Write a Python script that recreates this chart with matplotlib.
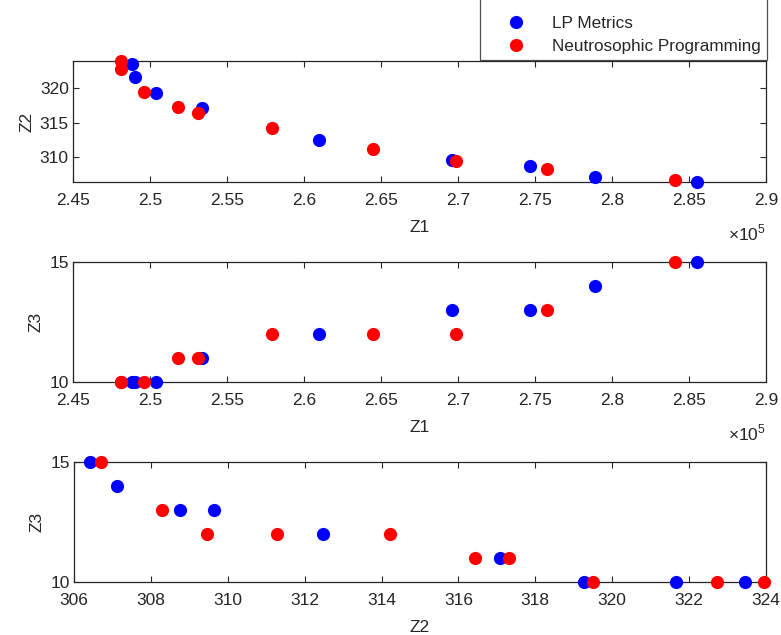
import matplotlib
matplotlib.use("Agg")
from matplotlib import pyplot as plt
from matplotlib.ticker import FuncFormatter

plt.rcParams['font.family'] = ['Liberation Sans', 'DejaVu Sans']
plt.rcParams['mathtext.fontset'] = 'custom'
plt.rcParams['mathtext.rm'] = 'Liberation Sans'

# LP Metrics solutions
lp_z1 = [248800, 249000, 250400, 253400, 261000, 269600, 274700, 278900, 285500]
lp_z2 = [323.45, 321.65, 319.27, 317.07, 312.47, 309.63, 308.77, 307.12, 306.42]
lp_z3 = [10, 10, 10, 11, 12, 13, 13, 14, 15]

# Neutrosophic Programming solutions
np_z1 = [248100, 248100, 249600, 251800, 253100, 257900, 264500, 269900, 275800, 284100]
np_z2 = [323.95, 322.72, 319.51, 317.31, 316.43, 314.21, 311.27, 309.45, 308.30, 306.71]
np_z3 = [10, 10, 10, 11, 11, 12, 12, 12, 13, 15]

z1_ticks = [245000, 250000, 255000, 260000, 265000, 270000, 275000, 280000, 285000, 290000]
z2_ticks = [306, 308, 310, 312, 314, 316, 318, 320, 322, 324]

grey = '#262626'
W, H = 781, 635

fig = plt.figure(figsize=(7.81, 6.35), dpi=100)
ax1 = fig.add_axes([73/W, 1-182/635, 693/W, 121/H])
ax2 = fig.add_axes([73/W, 1-382/635, 693/W, 120/H])
ax3 = fig.add_axes([74/W, 1-582/635, 692/W, 120/H])

pairs = [
    (ax1, lp_z1, lp_z2, np_z1, np_z2, 'Z1', 'Z2'),
    (ax2, lp_z1, lp_z3, np_z1, np_z3, 'Z1', 'Z3'),
    (ax3, lp_z2, lp_z3, np_z2, np_z3, 'Z2', 'Z3'),
]

for ax, bx, by, rx, ry, xl, yl in pairs:
    ax.plot(bx, by, 'o', color='blue', markersize=9.5, markeredgewidth=0,
            clip_on=False, label='LP Metrics', zorder=3)
    ax.plot(rx, ry, 'o', color='red', markersize=9.5, markeredgewidth=0,
            clip_on=False, label='Neutrosophic Programming', zorder=4)
    ax.set_xlabel(xl, fontsize=12.5, color=grey, labelpad=8.5)
    ax.set_ylabel(yl, fontsize=12.5, color=grey, labelpad=4)
    for s in ax.spines.values():
        s.set_color(grey)
        s.set_linewidth(0.9)
    ax.tick_params(direction='in', top=True, right=True, length=4, width=0.8,
                   colors=grey, labelsize=12.5)
    ax.tick_params(axis='x', pad=8)
    ax.tick_params(axis='y', pad=3)

# top: Z1 vs Z2
ax1.set_xlim(245000, 290000)
ax1.set_ylim(min(lp_z2 + np_z2), max(lp_z2 + np_z2))
ax1.set_yticks([310, 315, 320])

# middle: Z1 vs Z3
ax2.set_xlim(245000, 290000)
ax2.set_ylim(10, 15)
ax2.set_yticks([10, 15])

for ax in (ax1, ax2):
    ax.set_xticks(z1_ticks)
    ax.xaxis.set_major_formatter(FuncFormatter(lambda v, p: '%g' % (v / 1e5)))

# bottom: Z2 vs Z3
ax3.set_xlim(306, 324)
ax3.set_xticks(z2_ticks)
ax3.set_ylim(10, 15)
ax3.set_yticks([10, 15])

fig.text(766/W, 1-233/H, r'$\times10^{5}$', ha='right', va='center', fontsize=12.5, color=grey)
fig.text(766/W, 1-433/H, r'$\times10^{5}$', ha='right', va='center', fontsize=12.5, color=grey)

h, l = ax1.get_legend_handles_labels()
leg = fig.legend(h, l, loc='lower right', bbox_to_anchor=(767/W, 1-60/H),
                 fontsize=12.3, title=' ', title_fontsize=12, frameon=True, fancybox=False,
                 borderpad=0.35, labelspacing=0.45, handlelength=3.6, handletextpad=0.3,
                 borderaxespad=0)
leg.get_frame().set_edgecolor(grey)
leg.get_frame().set_linewidth(0.9)
for t in leg.get_texts():
    t.set_color(grey)

fig.savefig('out.png', dpi=100)
